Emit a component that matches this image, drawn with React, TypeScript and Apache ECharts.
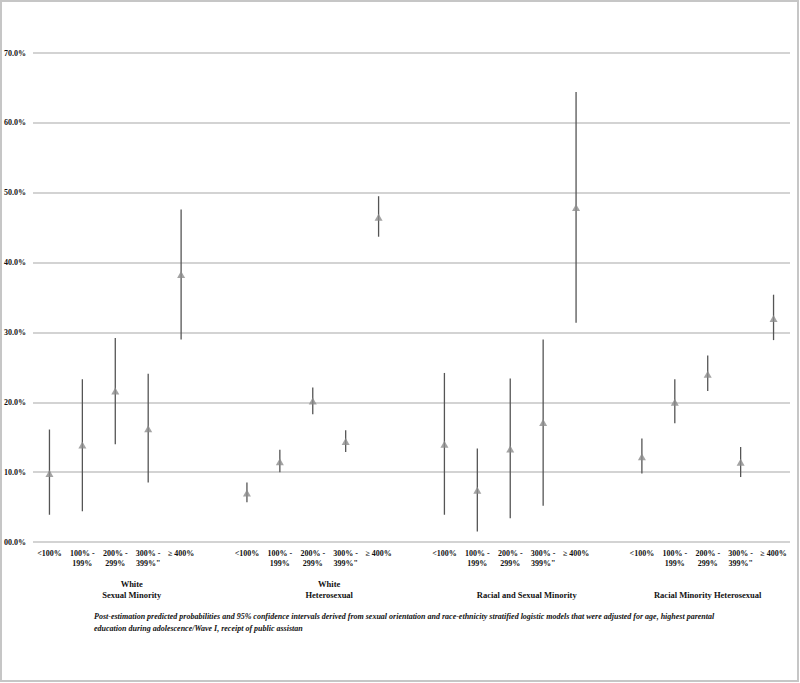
import React, { useEffect, useRef } from "react";
import * as echarts from "echarts";

const incomeLabels = ["<100%", "100% -\n199%", "200% -\n299%", "300% -\n399%\"", "≥ 400%"];
const groupNames = [
  "White\nSexual Minority",
  "White\nHeterosexual",
  "Racial and Sexual Minority",
  "Racial Minority Heterosexual",
];
const yTickLabels = ["00.0%", "10.0%", "20.0%", "30.0%", "40.0%", "50.0%", "60.0%", "70.0%"];

// Predicted probabilities (%) and 95% CI per group, by income category
const whiteSMEst = [9.8, 13.9, 21.6, 16.2, 38.3];
const whiteSMLow = [3.9, 4.4, 14.0, 8.5, 29.0];
const whiteSMHigh = [16.1, 23.3, 29.2, 24.1, 47.6];

const whiteHetEst = [7.0, 11.5, 20.2, 14.4, 46.5];
const whiteHetLow = [5.7, 10.0, 18.3, 12.9, 43.7];
const whiteHetHigh = [8.5, 13.2, 22.1, 16.0, 49.5];

const racialSMEst = [14.0, 7.4, 13.3, 17.1, 47.9];
const racialSMLow = [3.9, 1.5, 3.4, 5.2, 31.4];
const racialSMHigh = [24.2, 13.4, 23.4, 29.0, 64.4];

const racialHetEst = [12.2, 20.0, 24.0, 11.4, 32.0];
const racialHetLow = [9.8, 17.0, 21.6, 9.3, 28.9];
const racialHetHigh = [14.8, 23.3, 26.7, 13.6, 35.4];

const footnote =
  "Post-estimation predicted probabilities and 95% confidence intervals derived from sexual orientation and race-ethnicity stratified logistic models that were adjusted for age, highest parental\neducation during adolescence/Wave I, receipt of public assistan";

const SERIF = "'Liberation Serif', 'Times New Roman', serif";

export default function App() {
  const ref = useRef<HTMLDivElement>(null);

  useEffect(() => {
    if (!ref.current) return;
    document.body.style.margin = "0";
    const chart = echarts.init(ref.current, undefined, { renderer: "svg" });

    const groups = [
      { est: whiteSMEst, low: whiteSMLow, high: whiteSMHigh },
      { est: whiteHetEst, low: whiteHetLow, high: whiteHetHigh },
      { est: racialSMEst, low: racialSMLow, high: racialSMHigh },
      { est: racialHetEst, low: racialHetLow, high: racialHetHigh },
    ];

    const categories: string[] = [];
    const points: number[][] = [];
    const bars: number[][] = [];
    const groupSpans: number[][] = [];
    groups.forEach((g, gi) => {
      const start = categories.length;
      g.est.forEach((v, i) => {
        const idx = categories.length;
        categories.push(incomeLabels[i]);
        points.push([idx, v]);
        bars.push([idx, g.low[i], g.high[i]]);
      });
      if (gi < groups.length - 1) categories.push("");
      groupSpans.push([start, categories.length - 1]);
    });

    chart.setOption({
      animation: false,
      backgroundColor: "#ffffff",
      grid: { left: 33, right: 10, top: 53, bottom: 141, containLabel: false },
      xAxis: {
        type: "category",
        data: categories,
        axisLine: { show: false },
        axisTick: { show: false },
        splitLine: { show: false },
        axisLabel: {
          interval: 0,
          margin: 6,
          fontFamily: SERIF,
          fontWeight: "bold",
          fontSize: 8,
          lineHeight: 10,
          color: "#111",
        },
      },
      yAxis: {
        type: "value",
        min: 0,
        max: 70,
        interval: 10,
        axisLine: { show: false },
        axisTick: { show: false },
        splitLine: { lineStyle: { color: "#c4c4c4", width: 1.6 } },
        axisLabel: {
          align: "left",
          margin: 29,
          fontFamily: SERIF,
          fontWeight: "bold",
          fontSize: 8,
          color: "#111",
          formatter: (_v: number, i: number) => yTickLabels[i],
        },
      },
      series: [
        {
          type: "custom",
          data: bars,
          encode: { x: 0, y: [1, 2] },
          renderItem: (_params: any, api: any) => {
            const x = api.value(0);
            const lo = api.coord([x, api.value(1)]);
            const hi = api.coord([x, api.value(2)]);
            return {
              type: "line",
              shape: { x1: lo[0], y1: lo[1], x2: hi[0], y2: hi[1] },
              style: { stroke: "#555555", lineWidth: 1.3 },
            };
          },
          z: 2,
        },
        {
          type: "scatter",
          data: points,
          symbol: "triangle",
          symbolSize: [8, 7],
          itemStyle: { color: "#8c8c8c" },
          z: 3,
        },
      ],
    });

    const px = (i: number) => chart.convertToPixel({ xAxisIndex: 0 }, i) as number;
    const graphics: any[] = [
      {
        type: "rect",
        shape: { x: 1, y: 1, width: 797, height: 680 },
        style: { fill: "none", stroke: "#c6c6c6", lineWidth: 2 },
        silent: true,
      },
    ];
    groupSpans.forEach((span, gi) => {
      const cx = (px(span[0]) + px(span[1])) / 2;
      graphics.push({
        type: "text",
        x: cx,
        y: 600,
        style: {
          text: groupNames[gi],
          align: "center",
          verticalAlign: "bottom",
          font: `bold 8.5px ${SERIF}`,
          lineHeight: 11,
          fill: "#111",
        },
      });
    });
    graphics.push({
      type: "text",
      x: 94,
      y: 610,
      style: {
        text: footnote,
        align: "left",
        verticalAlign: "top",
        font: `italic bold 8px ${SERIF}`,
        lineHeight: 12,
        fill: "#111",
      },
    });
    chart.setOption({ graphic: graphics });

    return () => chart.dispose();
  }, []);

  return (
    <div
      ref={ref}
      style={{ position: "absolute", left: 0, top: 0, width: 800, height: 683 }}
    />
  );
}
